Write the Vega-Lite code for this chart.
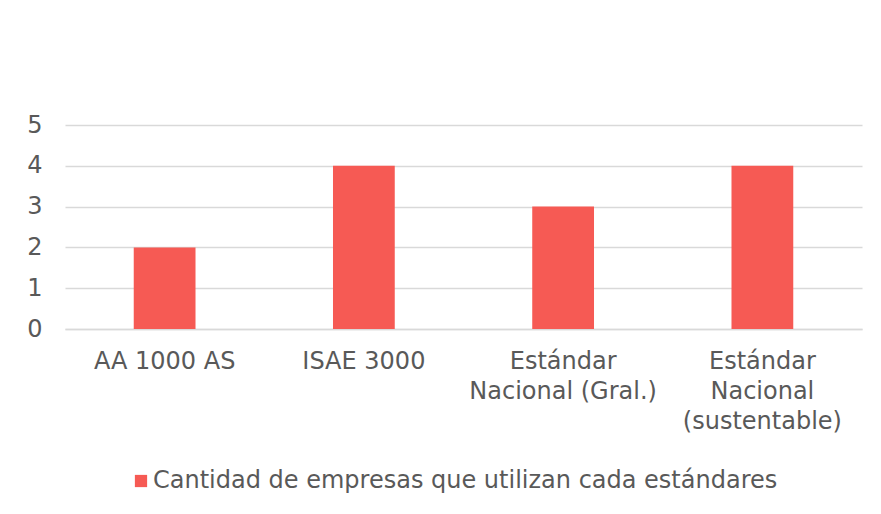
{
  "$schema": "https://vega.github.io/schema/vega-lite/v6.json",
  "width": 797,
  "height": 204,
  "autosize": {"type": "none"},
  "padding": {"left": 65, "top": 125, "right": 19, "bottom": 185},
  "background": "white",
  "data": {
    "values": [
      {"estandar": "AA 1000 AS", "cantidad": 2, "serie": "Cantidad de empresas que utilizan cada estándares"},
      {"estandar": "ISAE 3000", "cantidad": 4, "serie": "Cantidad de empresas que utilizan cada estándares"},
      {"estandar": "Estándar\nNacional (Gral.)", "cantidad": 3, "serie": "Cantidad de empresas que utilizan cada estándares"},
      {"estandar": "Estándar\nNacional\n(sustentable)", "cantidad": 4, "serie": "Cantidad de empresas que utilizan cada estándares"}
    ]
  },
  "mark": {"type": "bar", "color": "#F65A54"},
  "encoding": {
    "x": {
      "field": "estandar",
      "type": "nominal",
      "sort": null,
      "scale": {"paddingInner": 0.69, "paddingOuter": 0.345},
      "axis": {
        "title": null,
        "labelAngle": 0,
        "labelExpr": "split(datum.label, '\\n')",
        "labelFont": "DejaVu Sans",
        "labelFontSize": 24,
        "labelColor": "#595959",
        "labelLineHeight": 30,
        "labelPadding": 20,
        "labelBaseline": "top",
        "labelLimit": 0,
        "labelOverlap": false,
        "ticks": false,
        "domain": true,
        "domainColor": "#D9D9D9",
        "domainWidth": 1.5,
        "grid": false
      }
    },
    "y": {
      "field": "cantidad",
      "type": "quantitative",
      "scale": {"domain": [0, 5]},
      "axis": {
        "title": null,
        "values": [0, 1, 2, 3, 4, 5],
        "labelFont": "DejaVu Sans",
        "labelFontSize": 24,
        "labelColor": "#595959",
        "labelPadding": 23,
        "labelOverlap": false,
        "ticks": false,
        "domain": false,
        "grid": true,
        "gridColor": "#D9D9D9",
        "gridWidth": 1.5
      }
    },
    "fill": {
      "field": "serie",
      "type": "nominal",
      "scale": {"range": ["#F65A54"]},
      "legend": {
        "title": null,
        "orient": "none",
        "legendX": 64,
        "legendY": 344,
        "symbolType": "square",
        "symbolSize": 150,
        "symbolStrokeWidth": 0,
        "labelFont": "DejaVu Sans",
        "labelFontSize": 24,
        "labelColor": "#595959",
        "labelOffset": 0,
        "labelLimit": 0
      }
    }
  },
  "config": {"view": {"stroke": null}}
}
